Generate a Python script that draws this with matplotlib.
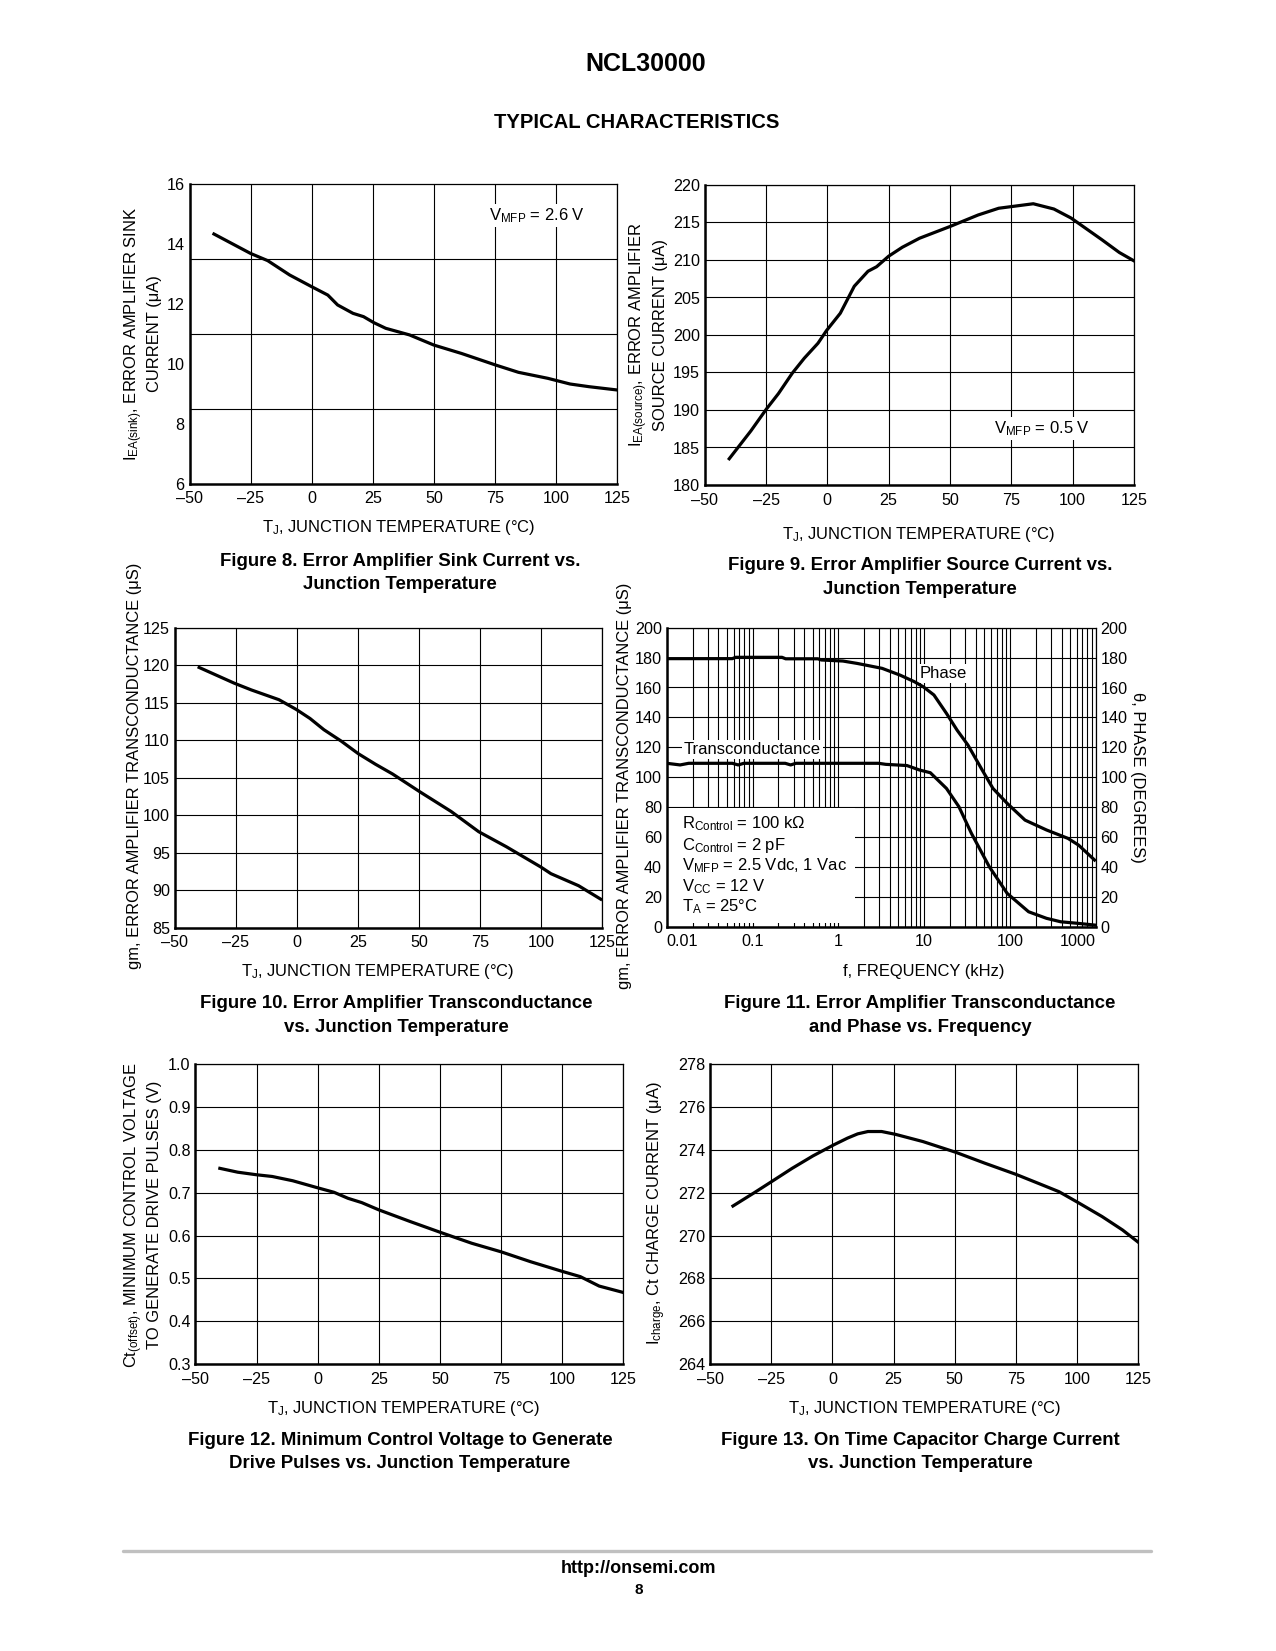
import matplotlib
matplotlib.use('Agg')
import matplotlib.pyplot as plt
from matplotlib.patches import Rectangle
from matplotlib.lines import Line2D
from matplotlib.ticker import LogLocator, NullFormatter

plt.rcParams['font.family'] = ['Liberation Sans', 'DejaVu Sans']
plt.rcParams['mathtext.fontset'] = 'custom'
plt.rcParams['mathtext.rm'] = 'Liberation Sans'
plt.rcParams['mathtext.it'] = 'Liberation Sans:italic'
plt.rcParams['mathtext.bf'] = 'Liberation Sans:bold'
plt.rcParams['mathtext.default'] = 'rm'

# ---------------- data ----------------
temp_ticks = [-50, -25, 0, 25, 50, 75, 100, 125]
temp_ticklabels = ['–50', '–25', '0', '25', '50', '75', '100', '125']

# Figure 8
temp_sink = [-40, -25, -18, -9, 0, 6.6, 10.6, 16.9, 21.2, 25.4, 30.3, 40, 50, 61.3,
             75.4, 84.6, 96.6, 105.7, 113.5, 125]
i_sink = [14.34, 13.69, 13.45, 12.97, 12.58, 12.3, 11.97, 11.69, 11.58, 11.38, 11.19,
          10.97, 10.63, 10.35, 9.96, 9.72, 9.52, 9.33, 9.24, 9.13]
sink_yticks = [6, 8, 10, 12, 14, 16]
sink_ygrid = [8.5, 11, 13.5]

# Figure 9
temp_source = [-40, -31.2, -24.9, -19.9, -14.3, -9.4, -3.8, -0.3, 5.3, 11, 16.6, 20.1,
               25, 30.6, 37.6, 50.3, 61.5, 69.9, 84, 92.4, 99.4, 112, 119.1, 125]
i_source = [183.5, 187.2, 190.1, 192.2, 194.9, 196.9, 198.9, 200.6, 202.9, 206.5, 208.5,
            209.1, 210.5, 211.7, 212.9, 214.5, 216.0, 216.9, 217.5, 216.8, 215.6, 212.7,
            211.0, 209.9]
source_yticks = [180, 185, 190, 195, 200, 205, 210, 215, 220]

# Figure 10
temp_gm = [-40, -25.6, -18.6, -7.3, -0.2, 5.4, 11.1, 18.1, 25.2, 32.2, 39.2, 50.5, 63.2,
           74.5, 85.8, 99.9, 104.1, 115.4, 124.5]
gm_temp = [119.7, 117.6, 116.7, 115.4, 114.1, 112.9, 111.4, 109.9, 108.2, 106.8, 105.5,
           103.1, 100.5, 97.8, 95.8, 93.1, 92.2, 90.6, 88.8]
gm_yticks = [85, 90, 95, 100, 105, 110, 115, 120, 125]

# Figure 11
freq_phase = [0.01, 0.058, 0.0635, 0.22, 0.243, 0.577, 0.634, 1.13, 1.66, 3.24, 5.23,
              7.68, 9.76, 13.0, 18.2, 24.2, 32.4, 47.5, 63.4, 92.9, 150, 267, 474, 631, 970]
phase = [179.3, 179.3, 180.2, 180.2, 179.2, 179.2, 178.4, 177.7, 176.1, 172.8, 168.3,
         163.9, 160.5, 155, 142.7, 131.5, 121.5, 104.8, 92.5, 82.5, 71.3, 64.7, 59.1,
         54.6, 44.6]
freq_gm = [0.01, 0.0143, 0.018, 0.058, 0.068, 0.079, 0.24, 0.278, 0.32, 2.94, 3.57, 6.3,
           8.85, 11.8, 18.2, 25.4, 35.6, 57.5, 92.9, 165, 267, 390, 631, 970]
gm_freq = [109.3, 108.2, 109.3, 109.3, 108.2, 109.3, 109.3, 108.2, 109.3, 109.3, 108.6,
           107.8, 104.8, 103.0, 92.5, 80.3, 62.4, 40.1, 22.3, 10, 5.6, 3.3, 2.2, 1.1]
freq_ticks = [0.01, 0.1, 1, 10, 100, 1000]
freq_ticklabels = ['0.01', '0.1', '1', '10', '100', '1000']
f11_yticks = [0, 20, 40, 60, 80, 100, 120, 140, 160, 180, 200]
f11_conditions = [r'R$_{Control}$ = 100 kΩ', r'C$_{Control}$ = 2 pF',
                  r'V$_{MFP}$ = 2.5 Vdc, 1 Vac', r'V$_{CC}$ = 12 V', r'T$_{A}$ = 25°C']

# Figure 12
temp_ct = [-40, -32.7, -25, -18.6, -10.2, -0.3, 6.7, 12.4, 18, 25, 37.7, 50.4, 63, 75, 87,
           99.6, 107.4, 115.1, 125]
ct_offset = [0.757, 0.748, 0.742, 0.738, 0.728, 0.712, 0.701, 0.687, 0.677, 0.660, 0.633,
             0.607, 0.582, 0.562, 0.539, 0.517, 0.504, 0.482, 0.467]
ct_yticks = [0.3, 0.4, 0.5, 0.6, 0.7, 0.8, 0.9, 1.0]
ct_yticklabels = ['0.3', '0.4', '0.5', '0.6', '0.7', '0.8', '0.9', '1.0']

# Figure 13
temp_chg = [-40.7, -32, -24.9, -16.5, -8, 0.4, 6.1, 10.3, 14.5, 20.1, 25.7, 37, 50.4, 62.3,
            75, 84.8, 92.6, 100.3, 110.2, 118.6, 125]
i_charge = [271.38, 272.0, 272.52, 273.14, 273.72, 274.23, 274.55, 274.75, 274.86, 274.86,
            274.73, 274.39, 273.89, 273.38, 272.86, 272.41, 272.05, 271.55, 270.89, 270.26,
            269.69]
chg_yticks = [264, 266, 268, 270, 272, 274, 276, 278]

# ---------------- layout helpers ----------------
W, H = 1276, 1651
fig = plt.figure(figsize=(W / 100, H / 100), dpi=100)
fig.patch.set_facecolor('white')

TICK_FS = 11.6
LABEL_FS = 11.9
ANN_FS = 12
CAP_FS = 13.4
LW = 2.3


def px_axes(l, t, r, b):
    return fig.add_axes([l / W, 1 - b / H, (r - l) / W, (b - t) / H])


def ptext(x, y, s, **kw):
    return fig.text(x / W, 1 - y / H, s, **kw)


def style_axes(ax):
    ax.set_axisbelow(True)
    for side in ('left', 'bottom'):
        ax.spines[side].set_linewidth(1.8)
    for side in ('top', 'right'):
        ax.spines[side].set_linewidth(0.9)
    ax.tick_params(axis='both', which='both', length=0, labelsize=TICK_FS)
    ax.tick_params(axis='y', pad=3.5)
    ax.tick_params(axis='x', pad=5.5)


def temp_axes(ax, yticks, ylim, yticklabels=None):
    ax.set_xlim(-50, 125)
    ax.set_ylim(*ylim)
    ax.set_xticks(temp_ticks, temp_ticklabels)
    if yticklabels is None:
        ax.set_yticks(yticks)
    else:
        ax.set_yticks(yticks, yticklabels)
    style_axes(ax)


def caption(x, y, l1, l2):
    ptext(x, y, l1, ha='center', va='center', fontsize=CAP_FS, fontweight='bold')
    ptext(x, y + 23.5, l2, ha='center', va='center', fontsize=CAP_FS, fontweight='bold')


GRID = dict(color='black', linewidth=0.8)
BOX = dict(facecolor='white', edgecolor='none', pad=1.5)
XLAB = r'T$_{J}$, JUNCTION TEMPERATURE (°C)'

# ---------------- header ----------------
ptext(646, 64, 'NCL30000', ha='center', va='center', fontsize=18, fontweight='bold')
ptext(637, 122, 'TYPICAL CHARACTERISTICS', ha='center', va='center', fontsize=14.6,
      fontweight='bold')

# ---------------- Figure 8 ----------------
ax8 = px_axes(189.5, 184.3, 617.2, 483.7)
temp_axes(ax8, sink_yticks, (6, 16))
ax8.set_yticks(sink_ygrid, minor=True)
ax8.grid(True, which='major', axis='x', **GRID)
ax8.grid(True, which='minor', axis='y', **GRID)
ax8.plot(temp_sink, i_sink, color='black', lw=LW, zorder=4)
ax8.text(92, 14.95, r'V$_{MFP}$ = 2.6 V', ha='center', va='center', fontsize=ANN_FS,
         bbox=BOX, zorder=3)
ptext(134, 334, r'I$_{EA(sink)}$, ERROR AMPLIFIER SINK', rotation=90, ha='center',
      va='center', fontsize=LABEL_FS)
ptext(154, 334, 'CURRENT (μA)', rotation=90, ha='center', va='center', fontsize=LABEL_FS)
ptext(399, 527, XLAB, ha='center', va='center', fontsize=LABEL_FS)
caption(400, 561, 'Figure 8. Error Amplifier Sink Current vs.', 'Junction Temperature')

# ---------------- Figure 9 ----------------
ax9 = px_axes(704.7, 185, 1133.8, 485)
temp_axes(ax9, source_yticks, (180, 220))
ax9.grid(True, which='major', **GRID)
ax9.plot(temp_source, i_source, color='black', lw=LW, zorder=4)
ax9.text(87.6, 187.5, r'V$_{MFP}$ = 0.5 V', ha='center', va='center', fontsize=ANN_FS,
         bbox=BOX, zorder=3)
ptext(639, 335, r'I$_{EA(source)}$, ERROR AMPLIFIER', rotation=90, ha='center',
      va='center', fontsize=LABEL_FS)
ptext(660, 335, 'SOURCE CURRENT (μA)', rotation=90, ha='center', va='center',
      fontsize=LABEL_FS)
ptext(919, 535, XLAB, ha='center', va='center', fontsize=LABEL_FS)
caption(920, 565.5, 'Figure 9. Error Amplifier Source Current vs.', 'Junction Temperature')

# ---------------- Figure 10 ----------------
ax10 = px_axes(174.7, 627.7, 602, 927.7)
temp_axes(ax10, gm_yticks, (85, 125))
ax10.grid(True, which='major', **GRID)
ax10.plot(temp_gm, gm_temp, color='black', lw=LW, zorder=4)
ptext(134, 766, 'gm, ERROR AMPLIFIER TRANSCONDUCTANCE (μS)', rotation=90,
      ha='center', va='center', fontsize=LABEL_FS)
ptext(378, 971, XLAB, ha='center', va='center', fontsize=LABEL_FS)
caption(396, 1003.5, 'Figure 10. Error Amplifier Transconductance', 'vs. Junction Temperature')

# ---------------- Figure 11 ----------------
ax11 = px_axes(666.8, 627.7, 1095.7, 926.7)
ax11.set_xscale('log')
ax11.set_xlim(0.01, 1000)
ax11.set_ylim(0, 200)
ax11.set_xticks(freq_ticks, freq_ticklabels)
ax11.xaxis.set_minor_locator(LogLocator(base=10, subs=[2, 3, 4, 5, 6, 7, 8, 9], numticks=20))
ax11.xaxis.set_minor_formatter(NullFormatter())
ax11.set_yticks(f11_yticks)
style_axes(ax11)
ax11.yaxis.set_tick_params(labelright=True)
ax11.grid(True, which='both', axis='x', **GRID)
ax11.grid(True, which='major', axis='y', **GRID)
xl = ax11.get_xticklabels()
xl[0].set_ha('left')
xl[-1].set_ha('right')
ax11.plot(freq_phase, phase, color='black', lw=LW, zorder=4)
ax11.plot(freq_gm, gm_freq, color='black', lw=LW, zorder=4)
ax11.add_patch(Rectangle((0.01, 2.5), 1.56 - 0.01, 79.3 - 2.5, facecolor='white',
                         edgecolor='none', zorder=2.5))
ax11.text(0.1, 118.5, 'Transconductance', ha='center', va='center', fontsize=ANN_FS,
          bbox=BOX, zorder=3)
ax11.text(16.9, 169.4, 'Phase', ha='center', va='center', fontsize=ANN_FS, bbox=BOX, zorder=3)
cond_y = [65.8, 51.6, 37.6, 24.0, 10.4]
for s, yv in zip(f11_conditions, cond_y):
    ax11.text(0.015, yv, s, ha='left', va='baseline', fontsize=ANN_FS, zorder=3)
ptext(624, 786, 'gm, ERROR AMPLIFIER TRANSCONDUCTANCE (μS)', rotation=90,
      ha='center', va='center', fontsize=LABEL_FS)
ptext(1137, 777, 'θ, PHASE (DEGREES)', rotation=-90, ha='center', va='center',
      fontsize=LABEL_FS)
ptext(924, 971, 'f, FREQUENCY (kHz)', ha='center', va='center', fontsize=LABEL_FS)
caption(920, 1003.5, 'Figure 11. Error Amplifier Transconductance', 'and Phase vs. Frequency')

# ---------------- Figure 12 ----------------
ax12 = px_axes(195.4, 1064.3, 623.4, 1364)
temp_axes(ax12, ct_yticks, (0.3, 1.0), ct_yticklabels)
ax12.grid(True, which='major', **GRID)
ax12.plot(temp_ct, ct_offset, color='black', lw=LW, zorder=4)
ptext(134, 1215, r'Ct$_{(offset)}$, MINIMUM CONTROL VOLTAGE', rotation=90, ha='center',
      va='center', fontsize=LABEL_FS)
ptext(154, 1215, 'TO GENERATE DRIVE PULSES (V)', rotation=90, ha='center', va='center',
      fontsize=LABEL_FS)
ptext(404, 1408, XLAB, ha='center', va='center', fontsize=LABEL_FS)
caption(400, 1440, 'Figure 12. Minimum Control Voltage to Generate',
        'Drive Pulses vs. Junction Temperature')

# ---------------- Figure 13 ----------------
ax13 = px_axes(710.2, 1064.3, 1138.2, 1364)
temp_axes(ax13, chg_yticks, (264, 278))
ax13.grid(True, which='major', **GRID)
ax13.plot(temp_chg, i_charge, color='black', lw=LW, zorder=4)
ptext(657, 1213, r'I$_{charge}$, Ct CHARGE CURRENT (μA)', rotation=90, ha='center',
      va='center', fontsize=LABEL_FS)
ptext(925, 1408, XLAB, ha='center', va='center', fontsize=LABEL_FS)
caption(920, 1440, 'Figure 13. On Time Capacitor Charge Current', 'vs. Junction Temperature')

# ---------------- footer ----------------
fig.add_artist(Line2D([122.5 / W, 1150.5 / W], [1 - 1550.7 / H, 1 - 1550.7 / H],
                      color='#c0c0c0', lw=2.4, solid_capstyle='round'))
ptext(638, 1568, 'http://onsemi.com', ha='center', va='center', fontsize=13, fontweight='bold')
ptext(639, 1590, '8', ha='center', va='center', fontsize=11, fontweight='bold')

fig.savefig('out.png', dpi=100, facecolor='white')
